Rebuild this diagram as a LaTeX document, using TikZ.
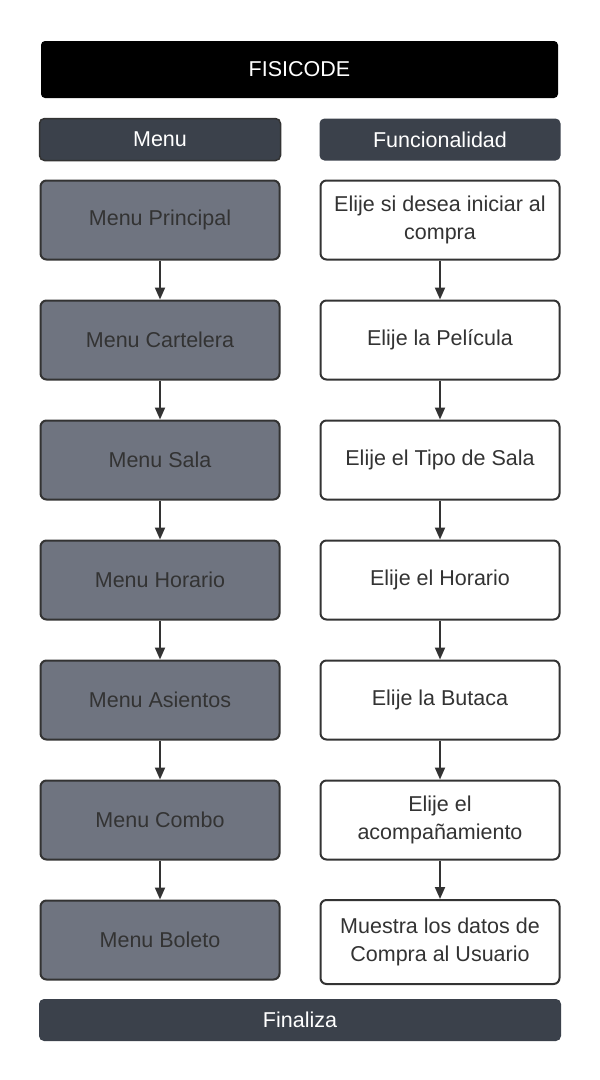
\documentclass[tikz,border=0pt]{standalone}
\usepackage{fontspec}
\setmainfont{Liberation Sans}
\usepackage{tikz}
\usetikzlibrary{arrows.meta}

\definecolor{slate}{HTML}{3B414B}
\definecolor{menugray}{HTML}{6F7480}
\definecolor{edge}{HTML}{333333}

\begin{document}
\begin{tikzpicture}[x=1pt,y=-1pt,
  titlestyle/.style={rectangle,rounded corners=4pt,fill=black,text=white,minimum width=517pt,minimum height=57pt,font=\fontsize{21.5}{27.5}\selectfont},
  headstyle/.style={rectangle,rounded corners=5pt,fill=slate,text=white,minimum width=241pt,minimum height=42pt,font=\fontsize{21.5}{27.5}\selectfont},
  menustyle/.style={rectangle,rounded corners=6pt,draw=edge,line width=2pt,fill=menugray,text=edge,minimum width=239pt,minimum height=79pt,font=\fontsize{21.5}{27.5}\selectfont},
  funcstyle/.style={menustyle,fill=white,align=center},
  linkstyle/.style={draw=edge,line width=2pt,-{Triangle[length=12pt,width=10pt]}}]
  \useasboundingbox (0,0) rectangle (600,1080);

  \node [titlestyle] (title) at (299.5,69.5) {FISICODE};
  \node [headstyle,draw=black!80,line width=1.5pt] (menuhead) at (160,139.5) {Menu};
  \node [headstyle] (funchead) at (440,139.5) {Funcionalidad};

  \foreach \txt [count=\i] in {Menu Principal,Menu Cartelera,Menu Sala,Menu Horario,Menu Asientos,Menu Combo,Menu Boleto}
    \node [menustyle] (m\i) at (160,100+120*\i) {\txt};

  \foreach \txt [count=\i] in {{Elije si desea iniciar al\\compra},{Elije la Película},{Elije el Tipo de Sala},{Elije el Horario},{Elije la Butaca},{Elije el\\acompañamiento}}
    \node [funcstyle] (f\i) at (440,100+120*\i) {\txt};
  \node [funcstyle,minimum height=84pt] (f7) at (440,942) {Muestra los datos de\\Compra al Usuario};

  \foreach \i in {1,...,6}
    {\pgfmathtruncatemacro{\j}{\i+1}
     \draw [linkstyle] (m\i) -- (m\j);
     \draw [linkstyle] (f\i) -- (f\j);}

  \node [headstyle,minimum width=522pt] (fin) at (300,1020) {Finaliza};
\end{tikzpicture}
\end{document}
